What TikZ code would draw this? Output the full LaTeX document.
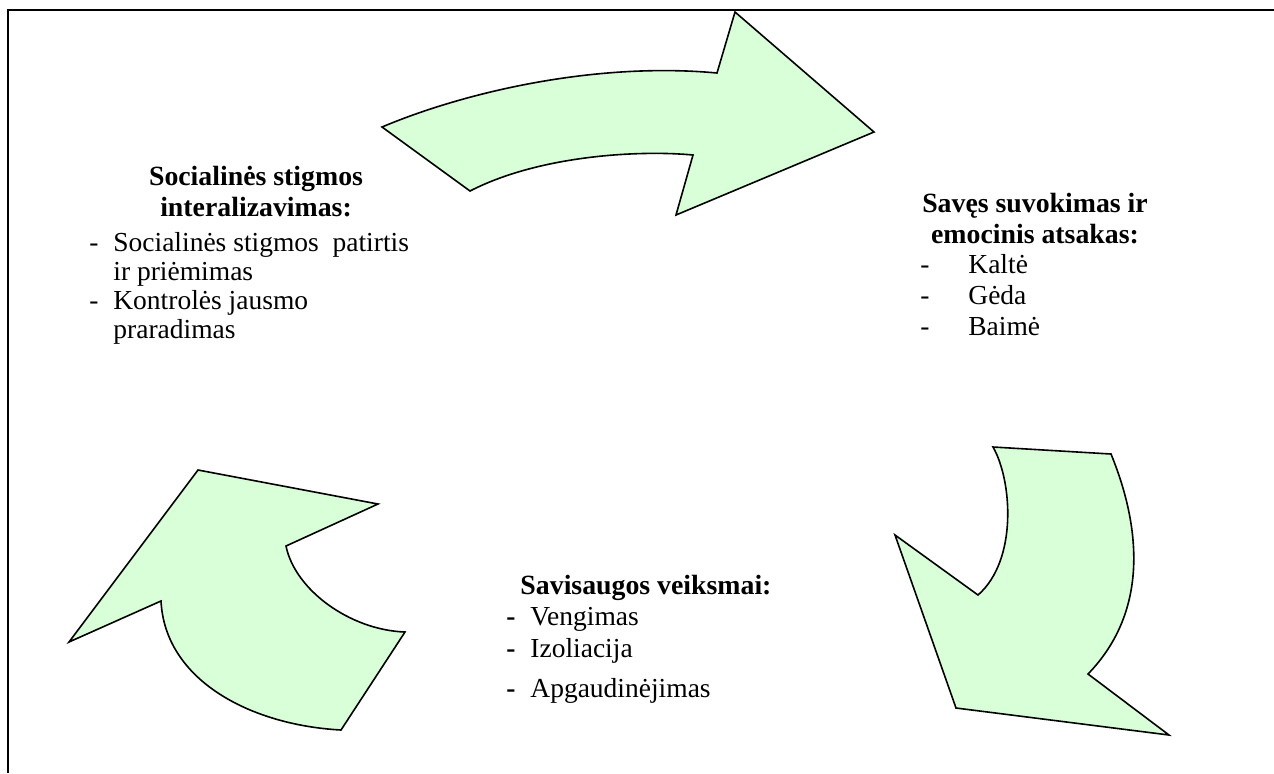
\documentclass[tikz,border=0pt]{standalone}
\usepackage{fontspec}
\setmainfont{Liberation Serif}
\usepackage{xcolor}
\definecolor{arrowgreen}{RGB}{217,255,217}

\tikzset{
    cyclearrow/.style={fill=arrowgreen, draw=black, line width=0.8pt, line join=miter},
    headtext/.style={font=\fontsize{13.9pt}{15.5pt}\selectfont\bfseries, inner sep=0pt, anchor=base},
    itemtext/.style={font=\fontsize{13.75pt}{15.5pt}\selectfont, inner sep=0pt, anchor=base west}
}

\begin{document}
\begin{tikzpicture}[x=0.5pt, y=-0.5pt]
    \useasboundingbox (0,0) rectangle (1274,773);

    % Frame (top and left edges only)
    \draw[line width=1.1pt] (8,773) -- (8,10) -- (1274,10);

    % Top arrow (left block -> right block)
    \filldraw[cyclearrow] (382,127) .. controls (470,90) and (600,62) .. (717,73)
        -- (735,12) -- (874,132) -- (676,215) -- (693,155)
        .. controls (640,150) and (540,155) .. (470,191) -- cycle;

    % Right arrow (right block -> bottom block)
    \filldraw[cyclearrow] (993,447) -- (1111,454) .. controls (1140,525) and (1150,610) .. (1088,674)
        -- (1169,735) -- (956,708) -- (895,535) -- (978,595)
        .. controls (1018,560) and (1012,480) .. (993,447) -- cycle;

    % Left arrow (bottom block -> left block)
    \filldraw[cyclearrow] (405,632) -- (341,730) .. controls (250,725) and (165,680) .. (161,601)
        -- (69,642) -- (198,470) -- (378,504) -- (286,546)
        .. controls (295,590) and (350,630) .. (405,632) -- cycle;

    % Left block: social stigma
    \node[headtext] (stigmaHeadA) at (256,185) {Socialinės stigmos};
    \node[headtext] (stigmaHeadB) at (256,216) {interalizavimas:};
    \node[itemtext] (stigmaItemA) at (89,251) {\makebox[12pt][l]{-}Socialinės stigmos\ \ patirtis};
    \node[itemtext] (stigmaItemB) at (113,280) {ir priėmimas};
    \node[itemtext] (stigmaItemC) at (89,309) {\makebox[12pt][l]{-}Kontrolės jausmo};
    \node[itemtext] (stigmaItemD) at (113,338) {praradimas};

    % Right block: self perception
    \node[headtext] (selfHeadA) at (1035,212) {Savęs suvokimas ir};
    \node[headtext] (selfHeadB) at (1035,243) {emocinis atsakas:};
    \node[itemtext] (selfItemA) at (920,273) {\makebox[24pt][l]{-}Kaltė};
    \node[itemtext] (selfItemB) at (920,304) {\makebox[24pt][l]{-}Gėda};
    \node[itemtext] (selfItemC) at (920,335) {\makebox[24pt][l]{-}Baimė};

    % Bottom block: self protection
    \node[headtext] (guardHead) at (646,594) {Savisaugos veiksmai:};
    \node[itemtext] (guardItemA) at (506,625) {\makebox[12pt][l]{\textbf{-}}Vengimas};
    \node[itemtext] (guardItemB) at (506,657) {\makebox[12pt][l]{\textbf{-}}Izoliacija};
    \node[itemtext] (guardItemC) at (506,697) {\makebox[12pt][l]{\textbf{-}}Apgaudinėjimas};
\end{tikzpicture}
\end{document}
